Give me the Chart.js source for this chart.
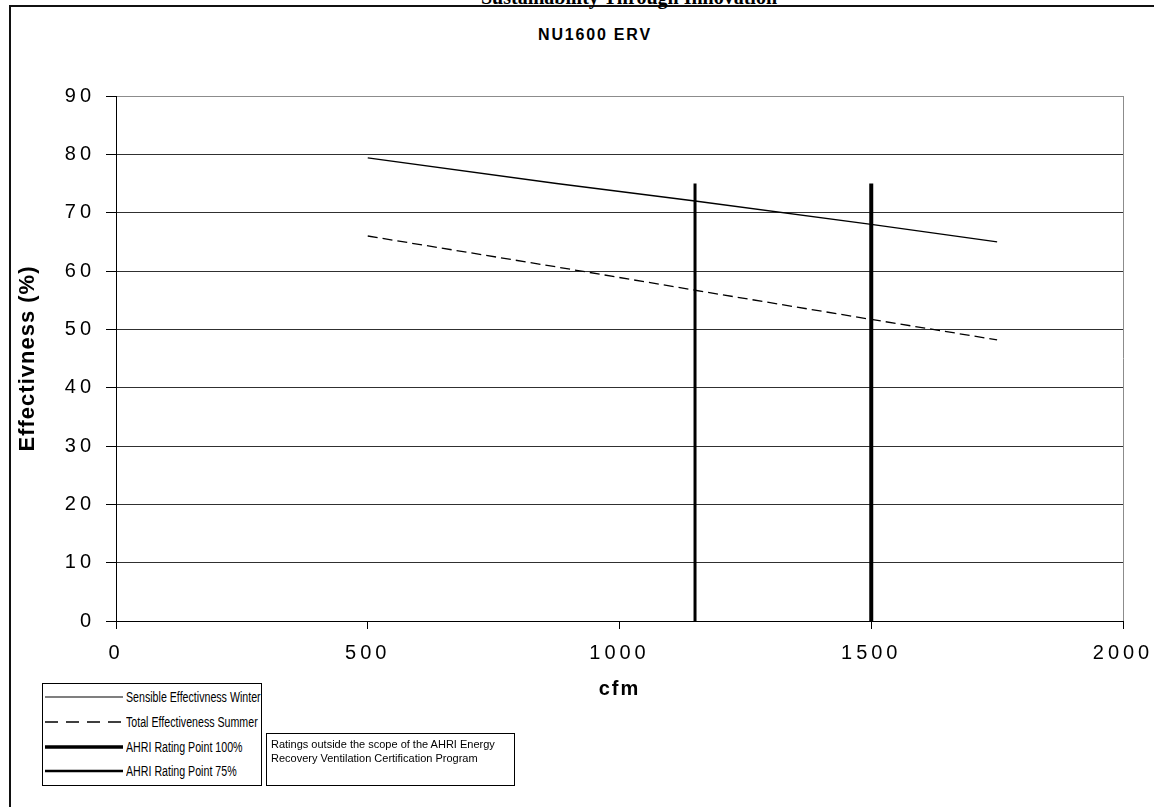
<!DOCTYPE html>
<html>
<head>
<meta charset="utf-8">
<script src="https://cdn.jsdelivr.net/npm/chart.js@4"></script>
<style>
  body { margin: 0; background: #fff; font-family: "Liberation Sans", Arial, sans-serif; }
  #page { position: relative; width: 1154px; height: 807px; overflow: hidden; }
  #frame { position: absolute; left: 9px; top: 5px; width: 1200px; height: 900px;
           border-left: 2px solid #111; border-top: 2px solid #111; }
  #topText { position: absolute; left: 429px; top: -14px; width: 400px; text-align: center;
             font: bold 20px "Liberation Serif", serif; color: #000; white-space: nowrap; }
  #title { position: absolute; left: 495px; top: 26px; width: 200px; text-align: center;
           font: bold 16px "Liberation Sans", Arial, sans-serif; letter-spacing: 1.8px; color: #000; }
  #wrap { position: absolute; left: 0; top: 0; width: 1154px; height: 807px; }
  #legend { position: absolute; left: 42px; top: 683px; width: 220px; height: 103px;
            border: 1px solid #000; background: #fff; padding-top: 1px; box-sizing: border-box; }
  .row { height: 24.7px; display: flex; align-items: center; white-space: nowrap; }
  .row svg { flex-shrink: 0; margin-left: 2px; margin-right: 3px; }
  .row span { display: inline-block; font-size: 14px; transform: scaleX(0.76); transform-origin: 0 50%; }
  #note { position: absolute; left: 266px; top: 733px; width: 249px; height: 53px;
          border: 1px solid #000; font-size: 11px; line-height: 14px; padding: 3px 0 0 4px; box-sizing: border-box; }
</style>
</head>
<body>
<div id="page">
  <div id="frame"></div>
  <div id="topText">Sustainability Through Innovation</div>
  <div id="title">NU1600 ERV</div>
  <div id="wrap"><canvas id="ervChart"></canvas></div>
  <div id="legend"></div>
  <div id="note">Ratings outside the scope of the AHRI Energy Recovery Ventilation Certification Program</div>
</div>
<script>
// airflow (cfm) and effectiveness (%)
const cfm = [500, 875, 1150, 1500, 1750];
const sensibleWinter = [79.4, 75.0, 72.0, 68.0, 65.0];
const totalSummer = [66.0, 60.7, 56.7, 51.7, 48.2];

// rating point verticals
const rating100Cfm = [1500, 1500];
const rating75Cfm = [1150, 1150];
const ratingSpan = [0, 75];

const xTicks = [0, 500, 1000, 1500, 2000];
const yTicks = [0, 10, 20, 30, 40, 50, 60, 70, 80, 90];

function pts(xs, ys) {
    return xs.map(function (x, i) { return { x: x, y: ys[i] }; });
}

// the exported chart has spaced-out axis text
const labelSpacing = { x: "4px", y: "4px" };
const titleSpacing = { x: "2px", y: "1px" };

const spacing = {
    id: "spacing",
    beforeDraw: function (chart) {
        Object.keys(chart.scales).forEach(function (id) {
            const s = chart.scales[id];
            if (s._spaced) return;
            const drawLabels = s.drawLabels;
            const drawTitle = s.drawTitle;
            s.drawLabels = function (area) {
                this.ctx.letterSpacing = labelSpacing[id];
                drawLabels.call(this, area);
                this.ctx.letterSpacing = "0px";
            };
            s.drawTitle = function (area) {
                this.ctx.letterSpacing = titleSpacing[id];
                drawTitle.call(this, area);
                this.ctx.letterSpacing = "0px";
            };
            s._spaced = true;
        });
    }
};

const canvas = document.getElementById("ervChart");

const chart = new Chart(canvas, {
    type: "scatter",
    data: {
        datasets: [{
            label: "Sensible Effectivness Winter",
            data: pts(cfm, sensibleWinter),
            showLine: true,
            borderColor: "#000",
            borderWidth: 1.3,
            pointRadius: 0
        }, {
            label: "Total Effectiveness Summer",
            data: pts(cfm, totalSummer),
            showLine: true,
            borderColor: "#000",
            borderWidth: 1.3,
            borderDash: [10, 5],
            pointRadius: 0
        }, {
            label: "AHRI Rating Point 100%",
            data: pts(rating100Cfm, ratingSpan),
            showLine: true,
            borderColor: "#000",
            borderWidth: 4,
            pointRadius: 0
        }, {
            label: "AHRI Rating Point 75%",
            data: pts(rating75Cfm, ratingSpan),
            showLine: true,
            borderColor: "#000",
            borderWidth: 3,
            pointRadius: 0
        }]
    },
    options: {
        responsive: true,
        maintainAspectRatio: false,
        animation: false,
        layout: { padding: { left: 0, top: 96, right: 31, bottom: 0 } },
        plugins: {
            legend: { display: false },
            tooltip: { enabled: false }
        },
        scales: {
            x: {
                type: "linear",
                min: 0,
                max: 2000,
                afterBuildTicks: function (s) { s.ticks = xTicks.map(function (v) { return { value: v }; }); },
                afterFit: function (s) { s.height = 186; s.paddingLeft = 0; s.paddingRight = 0; },
                border: { color: "#000", width: 1 },
                grid: {
                    color: function (c) { return c.tick && c.tick.value === 2000 ? "#8c8c8c" : "rgba(0,0,0,0)"; },
                    tickColor: "#000",
                    tickLength: 8
                },
                ticks: {
                    color: "#000",
                    padding: 12,
                    maxRotation: 0,
                    callback: function (v) { return String(v); },
                    font: { family: "Liberation Sans", size: 20 }
                },
                title: {
                    display: true,
                    text: "cfm",
                    color: "#000",
                    font: { family: "Liberation Sans", size: 20, weight: "bold" },
                    padding: { top: 0, bottom: 106 }
                }
            },
            y: {
                min: 0,
                max: 90,
                afterBuildTicks: function (s) { s.ticks = yTicks.map(function (v) { return { value: v }; }); },
                afterFit: function (s) { s.width = 116; s.paddingTop = 0; s.paddingBottom = 0; },
                border: { color: "#000", width: 1 },
                grid: {
                    color: function (c) { return c.tick && c.tick.value === 90 ? "#8c8c8c" : "#303030"; },
                    tickColor: "#000",
                    tickLength: 10
                },
                ticks: {
                    color: "#000",
                    padding: 11,
                    callback: function (v) { return String(v); },
                    font: { family: "Liberation Sans", size: 20 }
                },
                title: {
                    display: true,
                    text: "Effectivness (%)",
                    color: "#000",
                    font: { family: "Liberation Sans", size: 22, weight: "bold" },
                    padding: { top: 15, bottom: 0 }
                }
            }
        }
    },
    plugins: [spacing]
});

// legend box built from the datasets
const legendBox = document.getElementById("legend");
chart.data.datasets.forEach(function (ds) {
    const row = document.createElement("div");
    row.className = "row";
    const dash = ds.borderDash ? "13,8" : "none";
    const w = ds.borderWidth > 2 ? ds.borderWidth - 0.5 : ds.borderWidth;
    const col = ds.borderWidth < 2 && !ds.borderDash ? "#555" : "#000";
    row.innerHTML = '<svg width="78" height="6"><line x1="0" y1="3" x2="78" y2="3" stroke="' + col +
        '" stroke-width="' + w + '" stroke-dasharray="' + dash + '"/></svg><span>' + ds.label + '</span>';
    legendBox.appendChild(row);
});
</script>
</body>
</html>
